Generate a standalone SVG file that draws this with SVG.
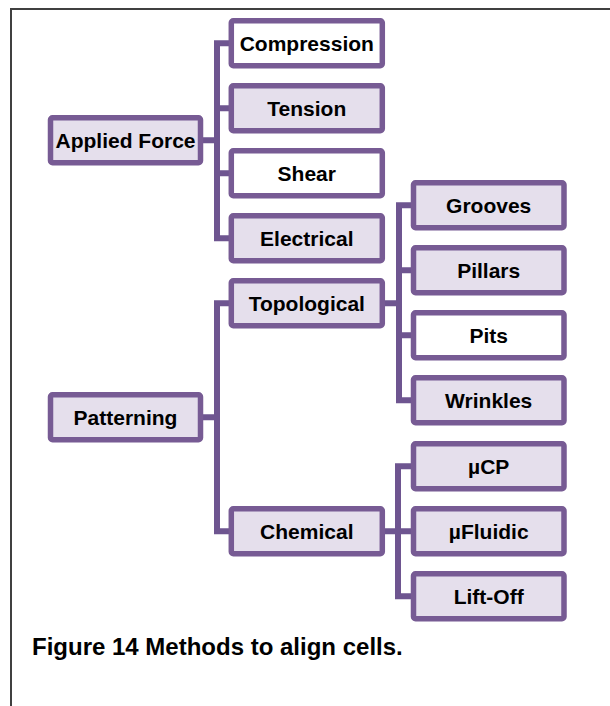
<svg xmlns="http://www.w3.org/2000/svg" width="610" height="706" viewBox="0 0 610 706">
<style>
.bx{stroke:#775B94;stroke-width:5.5;}
.f{fill:#E5DFEC;}
.w{fill:#FFFFFF;}
.t{font-family:"Liberation Sans",Arial,sans-serif;font-weight:bold;font-size:21px;fill:#000;text-anchor:middle;}
.cn{fill:none;stroke:#6E5590;stroke-width:6;}
</style>
<rect width="610" height="706" fill="#fff"/>
<path d="M11 706 V9 H610" fill="none" stroke="#404040" stroke-width="2"/>
<g id="connectors">
<path class="cn" d="M231 43.25 H217 V238.25 H231 M200 140.25 H217 M217 108.25 H231 M217 173.25 H231"/>
<path class="cn" d="M231 303.25 H217 V531.25 H231 M200 417.25 H217"/>
<path class="cn" d="M413 205.25 H399 V400.25 H413 M382 303.25 H399 M399 270.25 H413 M399 335.25 H413"/>
<path class="cn" d="M413 466.25 H398 V596.25 H413 M382 531.25 H413"/>
</g>
<g id="applied-force"><rect class="bx f" x="50.5" y="117.75" width="150" height="45" rx="2"/><text class="t" x="125.5" y="147.5">Applied Force</text></g>
<g id="compression"><rect class="bx w" x="231.3" y="20.75" width="151" height="45" rx="2"/><text class="t" x="306.8" y="50.5">Compression</text></g>
<g id="tension"><rect class="bx f" x="231.3" y="85.75" width="151" height="45" rx="2"/><text class="t" x="306.8" y="115.5">Tension</text></g>
<g id="shear"><rect class="bx w" x="231.3" y="150.75" width="151" height="45" rx="2"/><text class="t" x="306.8" y="180.5">Shear</text></g>
<g id="electrical"><rect class="bx f" x="231.3" y="215.75" width="151" height="45" rx="2"/><text class="t" x="306.8" y="245.5">Electrical</text></g>
<g id="patterning"><rect class="bx f" x="50.5" y="394.75" width="150" height="45" rx="2"/><text class="t" x="125.5" y="424.5">Patterning</text></g>
<g id="topological"><rect class="bx f" x="231.3" y="280.75" width="151" height="45" rx="2"/><text class="t" x="306.8" y="310.5">Topological</text></g>
<g id="chemical"><rect class="bx f" x="231.3" y="508.75" width="151" height="45" rx="2"/><text class="t" x="306.8" y="538.5">Chemical</text></g>
<g id="grooves"><rect class="bx f" x="413.5" y="182.75" width="150.5" height="45" rx="2"/><text class="t" x="488.7" y="212.5">Grooves</text></g>
<g id="pillars"><rect class="bx f" x="413.5" y="247.75" width="150.5" height="45" rx="2"/><text class="t" x="488.7" y="277.5">Pillars</text></g>
<g id="pits"><rect class="bx w" x="413.5" y="312.75" width="150.5" height="45" rx="2"/><text class="t" x="488.7" y="342.5">Pits</text></g>
<g id="wrinkles"><rect class="bx f" x="413.5" y="377.75" width="150.5" height="45" rx="2"/><text class="t" x="488.7" y="407.5">Wrinkles</text></g>
<g id="ucp"><rect class="bx f" x="413.5" y="443.75" width="150.5" height="45" rx="2"/><text class="t" x="488.7" y="473.5">µCP</text></g>
<g id="ufluidic"><rect class="bx f" x="413.5" y="508.75" width="150.5" height="45" rx="2"/><text class="t" x="488.7" y="538.5">µFluidic</text></g>
<g id="lift-off"><rect class="bx f" x="413.5" y="573.75" width="150.5" height="45" rx="2"/><text class="t" x="488.7" y="603.5">Lift-Off</text></g>
<text x="32" y="655" font-family="Liberation Sans, Arial, sans-serif" font-weight="bold" font-size="24" fill="#000">Figure 14 Methods to align cells.</text>
</svg>
